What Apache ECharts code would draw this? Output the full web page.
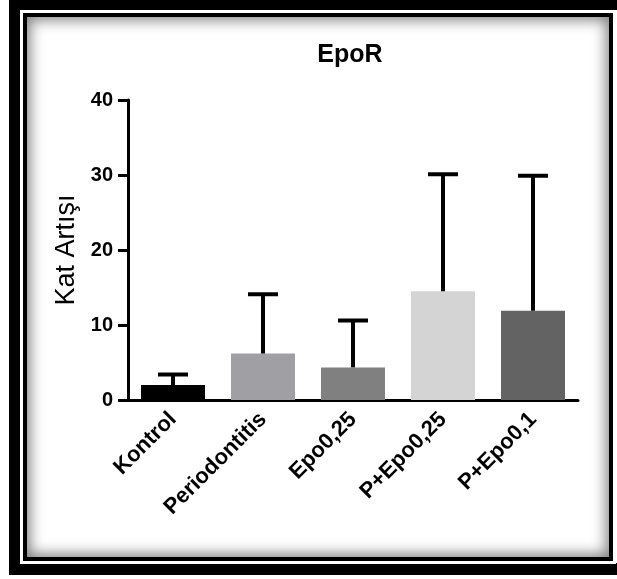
<!DOCTYPE html>
<html>
<head>
<meta charset="utf-8">
<script src="https://cdn.jsdelivr.net/npm/echarts@6/dist/echarts.min.js"></script>
<style>
  html, body { margin: 0; padding: 0; background: #fff; }
  #wrap { position: relative; width: 617px; height: 579px; overflow: hidden; }
  .outer { position: absolute; left: 9px; top: -1px; width: 700px; height: 576px;
           box-sizing: border-box; border: 11px solid #000; border-bottom-width: 12px; border-right: none; }
  .inner { position: absolute; left: 23px; top: 13px; width: 590px; height: 548px;
           box-sizing: border-box; border: 4px solid #000; outline: 3px solid #fff;
           background: #fff; box-shadow: inset 0 0 14px 3px rgba(0,0,0,0.5); }
  #main { position: absolute; left: 0; top: 0; width: 617px; height: 579px; }
</style>
</head>
<body>
<div id="wrap">
  <div class="outer"></div>
  <div class="inner"></div>
  <div id="main"></div>
</div>
<script>
// veriler
var categories = ['Kontrol', 'Periodontitis', 'Epo0,25', 'P+Epo0,25', 'P+Epo0,1'];
var means = [2.0, 6.2, 4.35, 14.5, 11.9];
var sd = [1.4, 7.9, 6.25, 15.6, 18.0];
var barColors = ['#000000', '#a0a0a4', '#808080', '#d4d4d4', '#636363'];
var yTicks = [0, 10, 20, 30, 40];

var chart = echarts.init(document.getElementById('main'));

var errData = means.map(function (m, i) { return [i, m, m + sd[i]]; });

var option = {
  animation: false,
  title: {
    text: 'EpoR',
    left: 345,
    textAlign: 'center',
    top: 38,
    textStyle: { fontFamily: 'Liberation Sans', fontSize: 25, fontWeight: 'bold', color: '#000' }
  },
  grid: { left: 128, right: 39, top: 100, bottom: 179 },
  xAxis: {
    type: 'category',
    data: categories,
    axisLine: { lineStyle: { color: '#000', width: 3 } },
    axisTick: { alignWithLabel: true, length: 9, lineStyle: { color: '#000', width: 3 } },
    axisLabel: {
      rotate: 45, margin: 16, color: '#000',
      fontFamily: 'Liberation Sans', fontSize: 22, fontWeight: 'bold'
    }
  },
  yAxis: {
    type: 'value',
    min: 0, max: 40, interval: 10,
    name: 'Kat Artışı',
    nameLocation: 'middle',
    nameGap: 46,
    nameTextStyle: { fontFamily: 'Liberation Sans', fontSize: 27, color: '#000' },
    splitLine: { show: false },
    axisLine: { show: true, lineStyle: { color: '#000', width: 3 } },
    axisTick: { show: true, length: 10, lineStyle: { color: '#000', width: 3 } },
    axisLabel: {
      margin: 15, color: '#000',
      fontFamily: 'Liberation Sans', fontSize: 20, fontWeight: 'bold',
      formatter: function (v) { return yTicks.indexOf(v) >= 0 ? String(v) : ''; }
    }
  },
  series: [
    {
      type: 'bar',
      barWidth: 64,
      data: means.map(function (v, i) { return { value: v, itemStyle: { color: barColors[i] } }; })
    },
    {
      type: 'custom',
      z: 5,
      data: errData,
      renderItem: function (params, api) {
        var base = api.coord([api.value(0), api.value(1)]);
        var top = api.coord([api.value(0), api.value(2)]);
        var half = 15;
        var st = { stroke: '#000', lineWidth: 4 };
        return {
          type: 'group',
          children: [
            { type: 'line', shape: { x1: base[0], y1: base[1], x2: top[0], y2: top[1] }, style: st },
            { type: 'line', shape: { x1: top[0] - half, y1: top[1], x2: top[0] + half, y2: top[1] }, style: st }
          ]
        };
      }
    }
  ]
};

chart.setOption(option);
</script>
</body>
</html>
